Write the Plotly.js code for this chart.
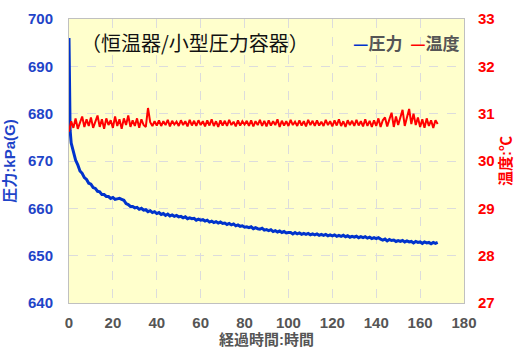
<!DOCTYPE html>
<html><head><meta charset="utf-8">
<script src="https://cdn.plot.ly/plotly-3.0.1.min.js"></script>
<style>html,body{margin:0;padding:0;background:#fff}#c{width:520px;height:354px}</style>
</head><body><div id="c"></div>
<script>
const pressureHours = [0,0.2,0.5,
 1,2,3,4,5,6,7,8,9,10,11,12,13,14,15,16,17,18,19,20,21,22,23,24,25,26,27,28,29,30,
 31,32,33,34,35,36,37,38,39,40,41,42,43,44,45,46,47,48,49,50,51,52,53,54,55,56,57,58,59,60,
 61,62,63,64,65,66,67,68,69,70,71,72,73,74,75,76,77,78,79,80,81,82,83,84,85,86,87,88,89,90,
 91,92,93,94,95,96,97,98,99,100,101,102,103,104,105,106,107,108,109,110,111,112,113,114,115,116,117,118,119,120,
 121,122,123,124,125,126,127,128,129,130,131,132,133,134,135,136,137,138,139,140,141,142,143,144,145,146,147,148,149,150,
 151,152,153,154,155,156,157,158,159,160,161,162,163,164,165,166,167,168];
const pressure = [696,683,676.5,
 673.8,671.9,670.2,669.2,667.9,667.4,666.5,666.1,665.3,665.1,
 664.4,664.2,663.6,663.5,662.9,662.9,662.5,662.5,662.1,662.3,
 661.9,662.0,662.1,661.9,661.7,661.0,660.8,660.4,660.4,660.1,
 660.2,659.8,660.0,659.6,659.7,659.3,659.5,659.1,659.3,658.9,
 659.1,658.7,658.9,658.5,658.8,658.4,658.6,658.3,658.5,658.2,
 658.3,658.0,658.2,657.8,658.0,657.8,657.9,657.5,657.7,657.5,
 657.6,657.3,657.5,657.1,657.3,657.0,657.2,656.9,657.1,656.8,
 656.9,656.6,656.8,656.5,656.7,656.3,656.5,656.2,656.3,656.0,
 656.1,655.9,656.1,655.7,655.9,655.7,655.6,655.8,655.4,655.5,
 655.3,655.5,655.1,655.3,655.0,655.2,654.9,655.1,654.8,654.9,
 654.9,654.6,654.9,654.6,654.8,654.5,654.7,654.5,654.7,654.4,
 654.6,654.4,654.6,654.3,654.5,654.3,654.5,654.2,654.4,654.2,
 654.4,654.1,654.3,654.1,654.3,654.0,654.2,653.9,654.1,653.9,
 654.1,653.8,654.0,653.8,654.0,653.7,653.9,653.6,653.8,653.6,
 653.8,653.5,653.3,653.5,653.1,653.4,653.2,653.3,653.0,653.2,
 653.0,653.2,652.9,653.1,652.9,653.0,652.7,653.0,652.8,652.9,
 652.6,652.9,652.7,652.8,652.5,652.8,652.6,652.8];
const tempHours = [0,1,2,3,4,5,6,7,8,9,10,11,12,13,14,15,16,17,18,19,20,21,22,23,24,25,26,27,28,29,
 30,31,32,33,34,35,36,37,38,39,40,41,42,43,44,45,46,47,48,49,50,51,52,53,54,55,56,57,58,59,
 60,61,62,63,64,65,66,67,68,69,70,71,72,73,74,75,76,77,78,79,80,81,82,83,84,85,86,87,88,89,
 90,91,92,93,94,95,96,97,98,99,100,101,102,103,104,105,106,107,108,109,110,111,112,113,114,115,116,117,118,119,
 120,121,122,123,124,125,126,127,128,129,130,131,132,133,134,135,136,137,138,139,140,141,142,143,144,145,146,147,148,149,
 150,151,152,153,154,155,156,157,158,159,160,161,162,163,164,165,166,167,168];
const temperature = [
 30.62,30.84,30.70,30.90,30.68,30.82,30.94,30.72,30.88,30.74,
 30.92,30.70,30.84,30.96,30.72,30.88,30.68,30.90,30.76,30.86,
 30.70,30.94,30.74,30.88,30.68,30.90,30.76,30.96,30.72,30.86,
 30.74,30.90,30.70,30.88,30.76,30.72,31.12,30.82,30.74,30.84,
 30.75,30.86,30.74,30.84,30.76,30.87,30.73,30.85,30.77,30.83,
 30.74,30.86,30.76,30.84,30.73,30.87,30.75,30.85,30.74,30.86,
 30.76,30.84,30.73,30.86,30.75,30.88,30.74,30.84,30.72,30.86,
 30.75,30.85,30.74,30.87,30.76,30.83,30.73,30.86,30.75,30.84,
 30.77,30.85,30.74,30.86,30.73,30.84,30.76,30.87,30.74,30.85,
 30.73,30.86,30.75,30.84,30.76,30.88,30.72,30.85,30.75,30.84,
 30.74,30.87,30.76,30.83,30.74,30.86,30.75,30.84,30.73,30.87,
 30.76,30.85,30.74,30.86,30.75,30.83,30.74,30.87,30.76,30.84,
 30.73,30.86,30.75,30.88,30.74,30.84,30.72,30.86,30.76,30.85,
 30.74,30.87,30.75,30.84,30.73,30.88,30.74,30.85,30.72,30.86,
 30.74,30.90,30.72,30.86,30.92,30.73,30.88,31.02,30.72,30.94,
 30.76,30.90,31.08,30.74,30.90,31.10,30.78,31.00,30.76,30.92,
 30.72,30.88,30.70,30.90,30.74,30.86,30.70,30.86,30.78];
const xTicks = [0,20,40,60,80,100,120,140,160,180];
const pTicks = [640,650,660,670,680,690,700];
const tTicks = [27,28,29,30,31,32,33];
const titleText = '（恒温器/小型圧力容器）';
const seriesNames = ['圧力','温度'];

const BLUE = '#0033cc', RED = '#ff0000', GRAY = '#555555';
const FONT = 'Liberation Sans, Arial, Noto Sans CJK JP, sans-serif';
const data = [
 {x: pressureHours, y: pressure, name: seriesNames[0], type:'scatter', mode:'lines',
  line:{color:BLUE, width:3}, yaxis:'y', showlegend:false},
 {x: tempHours, y: temperature, name: seriesNames[1], type:'scatter', mode:'lines',
  line:{color:RED, width:2}, yaxis:'y2', showlegend:false}
];
const layout = {
 width:520, height:354,
 margin:{l:69, r:56, t:19, b:51},
 paper_bgcolor:'#ffffff', plot_bgcolor:'#ffffcc',
 font:{family:FONT},
 xaxis:{range:[0,180], tickvals:xTicks, ticktext:xTicks.map(String),
  showgrid:true, gridcolor:'#dcdcdc', griddash:'dash', gridwidth:1,
  showline:true, linecolor:'#c0c0c0', linewidth:1, mirror:true, zeroline:false,
  ticks:'', ticklabelstandoff:6,
  tickfont:{size:15, color:GRAY, family:FONT, weight:'bold'},
  title:{text:'経過時間:時間', font:{size:15, color:GRAY, family:FONT, weight:'bold'}, standoff:4}},
 yaxis:{range:[640,700], tickvals:pTicks, ticktext:pTicks.map(String),
  showgrid:true, gridcolor:'#dcdcdc', griddash:'dash', gridwidth:1,
  showline:true, linecolor:'#c0c0c0', linewidth:1, mirror:true, zeroline:false,
  ticks:'', ticklabelstandoff:12,
  tickfont:{size:15, color:'#1f44c8', family:FONT, weight:'bold'},
  title:{text:'圧力:kPa(G)', font:{size:15, color:'#1f44c8', family:FONT, weight:'bold'}, standoff:8}},
 yaxis2:{range:[27,33], tickvals:tTicks, ticktext:tTicks.map(String), overlaying:'y', side:'right',
  showgrid:false, zeroline:false, showline:false, ticks:'', ticklabelstandoff:13,
  tickfont:{size:15, color:RED, family:FONT, weight:'bold'},
  title:{text:'温度:℃', font:{size:15, color:RED, family:FONT, weight:'bold'}, standoff:6}},
 annotations:[
  {xref:'paper', yref:'paper', x:0.025, y:0.975, xanchor:'left', yanchor:'top', showarrow:false,
   text:titleText, font:{size:20, color:'#111111', family:'Noto Sans CJK JP, sans-serif'}},
  {xref:'paper', yref:'paper', x:0.995, y:0.97, xanchor:'right', yanchor:'top', showarrow:false,
   text:'<span style="color:'+BLUE+'">—</span>'+seriesNames[0]+'  <span style="color:'+RED+'">—</span>'+seriesNames[1],
   font:{size:17, color:GRAY, family:'Noto Sans CJK JP, sans-serif', weight:'bold'}}
 ]
};
Plotly.newPlot('c', data, layout, {staticPlot:true, displayModeBar:false});
</script></body></html>
